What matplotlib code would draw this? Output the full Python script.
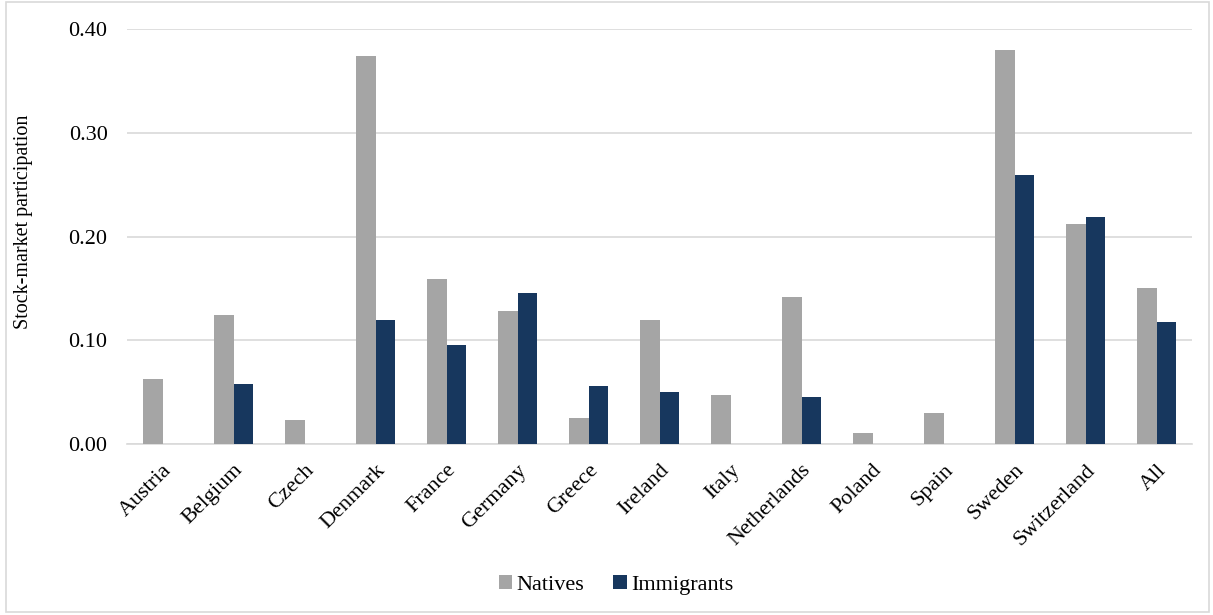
import numpy as np
import matplotlib.pyplot as plt
from matplotlib.patches import Rectangle

countries = ['Austria', 'Belgium', 'Czech', 'Denmark', 'France', 'Germany', 'Greece',
             'Ireland', 'Italy', 'Netherlands', 'Poland', 'Spain', 'Sweden',
             'Switzerland', 'All']
natives = [0.063, 0.124, 0.023, 0.374, 0.159, 0.128, 0.025, 0.120, 0.047, 0.142,
           0.011, 0.030, 0.380, 0.212, 0.150]
immigrants = [np.nan, 0.058, np.nan, 0.120, 0.095, 0.146, 0.056, 0.050, np.nan, 0.045,
              np.nan, np.nan, 0.259, 0.219, 0.118]
yticks = [0.0, 0.1, 0.2, 0.3, 0.4]

plt.rcParams['font.family'] = ['Liberation Serif', 'DejaVu Serif']

fig = plt.figure(figsize=(12.13, 6.15), dpi=100)
ax = fig.add_axes([127/1213, 1 - 444/615, (1192 - 127)/1213, (444 - 29)/615])

x = np.arange(len(countries))
w = 0.27
ax.bar(x - w/2, natives, w, color='#a5a5a5', label='Natives', zorder=3)
ax.bar(x + w/2, immigrants, w, color='#17375e', label='Immigrants', zorder=3)

ax.set_xlim(-0.5, len(countries) - 0.5)
ax.set_ylim(0, 0.40)
ax.set_yticks(yticks)
ax.set_yticklabels(['%.2f' % v for v in yticks], fontsize=16)
ax.set_xticks(x)
ax.set_xticklabels(countries, rotation=45, ha='right', rotation_mode='anchor', fontsize=16)
ax.tick_params(length=0)
ax.tick_params(axis='x', pad=12)
ax.tick_params(axis='y', pad=14)
ax.grid(axis='y', color='#d9d9d9', linewidth=1.2, zorder=0)
for s in ['top', 'right', 'left']:
    ax.spines[s].set_visible(False)
ax.spines['bottom'].set_color('#d9d9d9')
ax.spines['bottom'].set_linewidth(1.2)

fig.text(24/1213, 1 - 222/615, 'Stock-market participation', rotation=90,
         ha='center', va='center', fontsize=14.5)

fig.legend(loc='center', bbox_to_anchor=(616/1213, 1 - 585/615), ncol=2, frameon=False,
           fontsize=16, handlelength=0.6, handleheight=0.6, handletextpad=0.2,
           columnspacing=1.3)

fig.patches.append(Rectangle((6/1213, 3/615), 1203/1213, 610/615, transform=fig.transFigure,
                             fill=False, edgecolor='#d9d9d9', linewidth=1.2))

fig.savefig('out.png', dpi=100)
